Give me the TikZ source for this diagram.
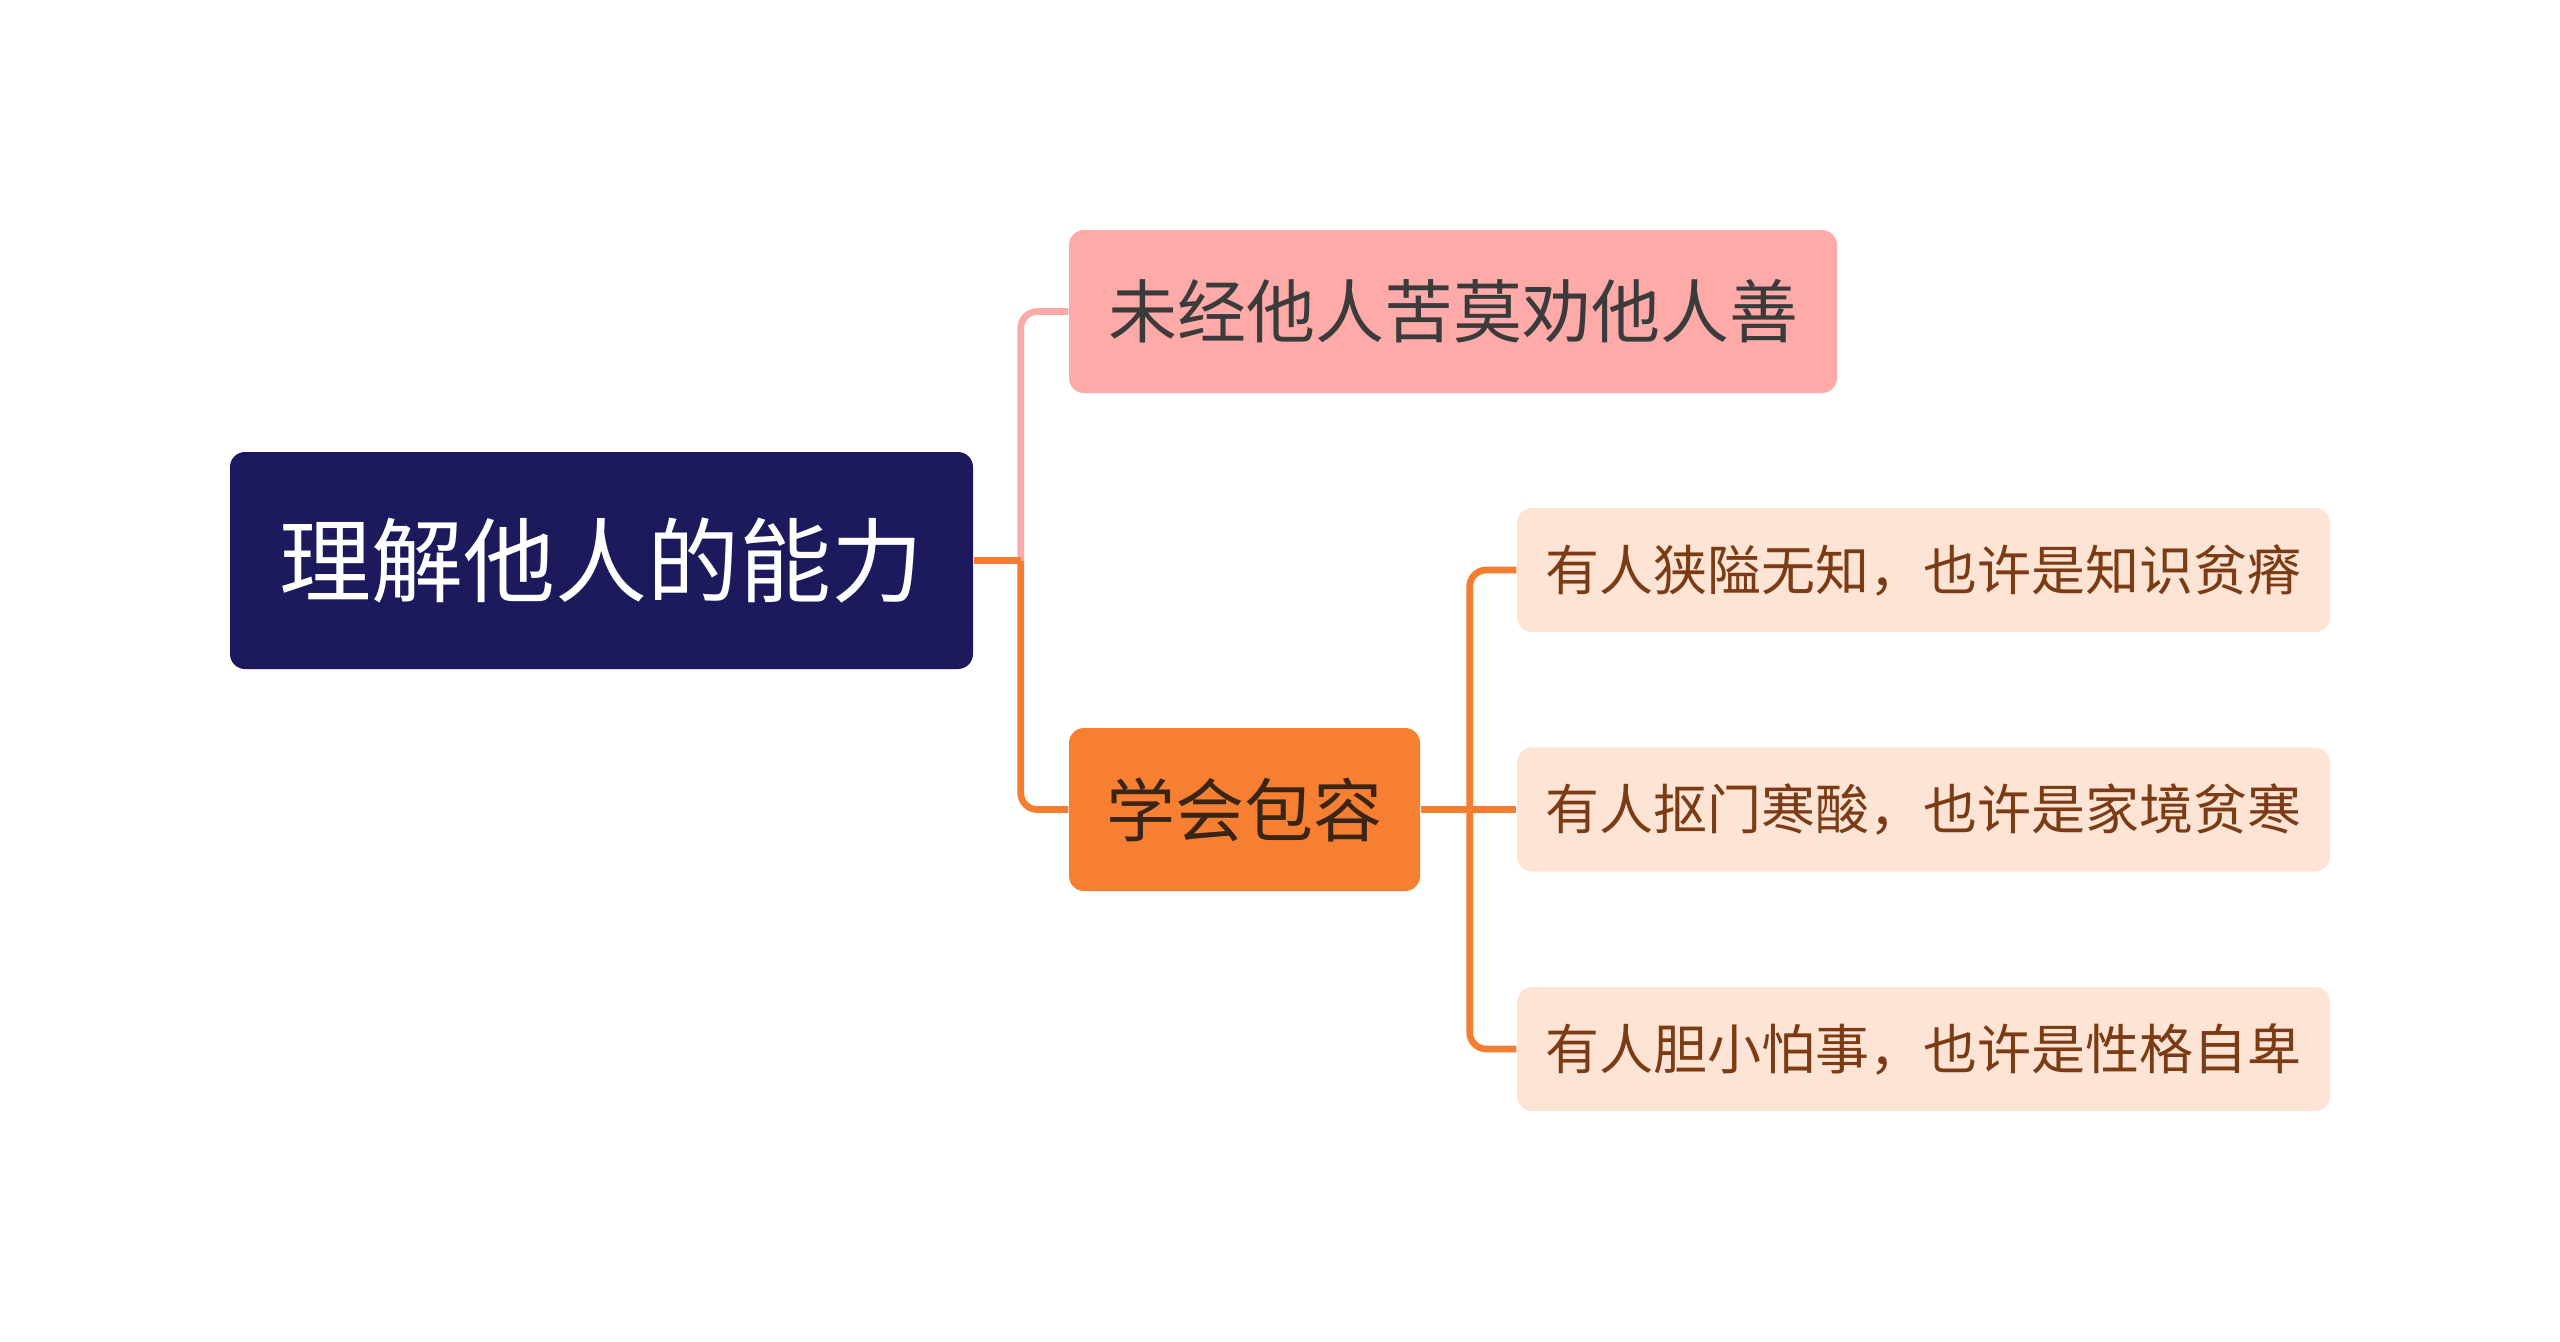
\documentclass[tikz,border=0pt]{standalone}
\usepackage{fontspec}
\usetikzlibrary{calc}
\setmainfont{Noto Sans CJK SC}
\newfontfamily\cjk{Noto Sans CJK SC}
\definecolor{rootfill}{HTML}{1C1A5C}
\definecolor{pinkfill}{HTML}{FDAAA8}
\definecolor{pinkline}{HTML}{F9AAA9}
\definecolor{orangefill}{HTML}{F77F32}
\definecolor{orangeline}{HTML}{F47D30}
\definecolor{leaffill}{HTML}{FDE4D5}
\definecolor{leaftext}{HTML}{7B3B14}
\definecolor{atext}{HTML}{3B3B3B}
\definecolor{btext}{HTML}{3A2515}
\tikzset{
  box/.style={rounded corners=4.5pt, inner sep=0pt, align=center, font=\cjk},
  rootbox/.style={box, fill=rootfill, text=white, minimum width=222.9pt, minimum height=65.1pt, font=\cjk\fontsize{27.6}{30}\selectfont},
  pinkbox/.style={box, fill=pinkfill, text=atext, minimum width=230.4pt, minimum height=48.9pt, font=\cjk\fontsize{20.7}{24}\selectfont},
  orangebox/.style={box, fill=orangefill, text=btext, minimum width=105.3pt, minimum height=48.9pt, font=\cjk\fontsize{20.7}{24}\selectfont},
  leafbox/.style={box, fill=leaffill, text=leaftext, minimum width=243.9pt, minimum height=37.2pt, font=\cjk\fontsize{16.2}{19}\selectfont},
  link/.style={line width=2pt, rounded corners=5pt},
  straight/.style={line width=2pt},
}
\begin{document}
\begin{tikzpicture}[x=0.3pt,y=-0.3pt]
\fill[white] (0,0) rectangle (2560,1342);
\useasboundingbox (0,0) rectangle (2560,1342);
\node[rootbox] (root) at (601.5,560.5) {理解他人的能力};
\node[pinkbox] (a) at (1453,311.5) {未经他人苦莫劝他人善};
\node[orangebox] (b) at (1244.5,809.5) {学会包容};
\node[leafbox] (l1) at (1923.5,570) {有人狭隘无知，也许是知识贫瘠};
\node[leafbox] (l2) at (1923.5,809.5) {有人抠门寒酸，也许是家境贫寒};
\node[leafbox] (l3) at (1923.5,1049) {有人胆小怕事，也许是性格自卑};
\coordinate (t1) at ($(root.east)+(47,0)$);
\draw[link, pinkline] (t1) |- (a.west);
\draw[link, orangeline] (t1) |- (b.west);
\draw[straight, orangeline] (root.east) -- (t1);
\coordinate (t2) at ($(b.east)+(49,0)$);
\draw[link, orangeline] (t2) |- (l1.west);
\draw[link, orangeline] (t2) |- (l3.west);
\draw[straight, orangeline] (b.east) -- (l2.west);
\end{tikzpicture}
\end{document}
